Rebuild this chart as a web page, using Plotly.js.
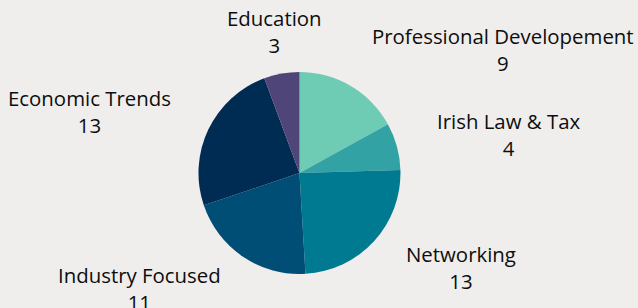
<!DOCTYPE html>
<html>
<head>
<meta charset="utf-8">
<script src="https://cdn.plot.ly/plotly-3.0.1.min.js"></script>
<style>
  html, body { margin: 0; padding: 0; background: #efeeec; }
  #chart { width: 638px; height: 308px; }
</style>
</head>
<body>
<div id="chart"></div>
<script>
const categories = ["Professional Developement", "Irish Law & Tax", "Networking", "Industry Focused", "Economic Trends", "Education"];
const values = [9, 4, 13, 11, 13, 3];
const colors = ["#6ecbb4", "#32a2a4", "#007a91", "#004d76", "#002b53", "#4f4578"];
// label placement (paper coords) for each category
const labelX = [0.789, 0.797, 0.723, 0.219, 0.140, 0.431];
const labelY = [0.839, 0.562, 0.131, 0.062, 0.638, 0.898];

const trace = {
  type: "pie",
  labels: categories,
  values: values,
  sort: false,
  direction: "clockwise",
  rotation: 0,
  textinfo: "none",
  hoverinfo: "label+value",
  marker: { colors: colors, line: { width: 0 } },
  domain: { x: [0.3111, 0.6277], y: [0.1104, 0.7662] },
  showlegend: false
};

const annotations = categories.map((c, i) => ({
  text: c + "<br>" + values[i],
  x: labelX[i], y: labelY[i],
  xref: "paper", yref: "paper",
  xanchor: "center", yanchor: "middle",
  showarrow: false,
  align: "center",
  font: { family: "'Open Sans', sans-serif", size: 20.4, weight: 500, color: "#0d0d0d" }
}));

const layout = {
  width: 638, height: 308,
  margin: { l: 0, r: 0, t: 0, b: 0 },
  paper_bgcolor: "#efeeec",
  plot_bgcolor: "#efeeec",
  annotations: annotations
};

Plotly.newPlot("chart", [trace], layout, { displayModeBar: false, staticPlot: true });
</script>
</body>
</html>
